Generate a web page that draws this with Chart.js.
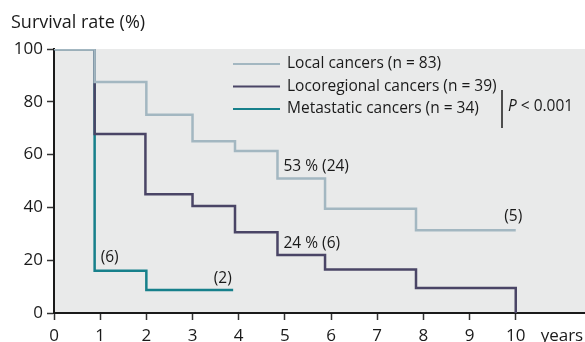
<!DOCTYPE html>
<html>
<head>
<meta charset="utf-8">
<script src="https://cdn.jsdelivr.net/npm/chart.js@4.4.1/dist/chart.umd.min.js"></script>
<style>
    body { margin: 0; background: #fff; }
    #wrap { width: 585px; height: 342px; }
</style>
</head>
<body>
<div id="wrap"><canvas id="kmChart" width="585" height="342"></canvas></div>
<script>
// Survival data (years, %)
const localTimes = [0, 0.88, 2.0, 3.0, 3.92, 4.84, 5.87, 7.84, 10];
const localValues = [100, 87.5, 75.1, 65.1, 61.4, 50.9, 39.5, 31.3, 31.3];
const locoTimes = [0, 0.88, 1.98, 3.0, 3.92, 4.84, 5.87, 7.84, 10];
const locoValues = [100, 67.8, 45.0, 40.5, 30.6, 22.0, 16.5, 9.5, 0];
const metaTimes = [0, 0.88, 2.0, 3.88];
const metaValues = [100, 16.0, 8.7, 8.7];

const seriesLabels = ["Local cancers (n = 83)", "Locoregional cancers (n = 39)", "Metastatic cancers (n = 34)"];
const xTickLabels = ["0", "1", "2", "3", "4", "5", "6", "7", "8", "9", "10", "years"];
const yTickLabels = ["0", "20", "40", "60", "80", "100"];

// Text notes on the curves
const noteTexts = ["53 % (24)", "24 % (6)", "(5)", "(6)", "(2)"];
const noteX = [4.97, 4.97, 9.75, 1.01, 3.46];
const noteY = [55.5, 26.2, 36.5, 20.9, 13.0];

const FONT = "'Open Sans', 'DejaVu Sans', sans-serif";
const colors = ["#a3b7c1", "#4a4566", "#17808b"];

function toPoints(times, values) {
    return times.map((t, i) => ({ x: t, y: values[i] }));
}

// Grey plot background
const plotBackground = {
    id: "plotBackground",
    beforeDraw(chart) {
        const { ctx, chartArea: a } = chart;
        ctx.save();
        ctx.fillStyle = "#e9eaea";
        ctx.fillRect(a.left, a.top, a.right - a.left, a.bottom - a.top);
        ctx.restore();
    }
};

// Title, legend and notes
const extras = {
    id: "extras",
    afterDraw(chart) {
        const ctx = chart.ctx;
        const xs = chart.scales.x, ys = chart.scales.y;
        ctx.save();
        ctx.fillStyle = "#1a1a1a";
        ctx.textBaseline = "middle";
        ctx.font = "18px " + FONT;
        ctx.fillText("Survival rate (%)", 11, 23);

        // legend
        ctx.font = "15.5px " + FONT;
        chart.data.datasets.forEach((ds, i) => {
            const y = 64 + i * 22.5;
            ctx.strokeStyle = ds.borderColor;
            ctx.lineWidth = 2;
            ctx.beginPath();
            ctx.moveTo(233, y);
            ctx.lineTo(280, y);
            ctx.stroke();
            ctx.fillStyle = "#1a1a1a";
            ctx.fillText(ds.label, 287, y);
        });
        ctx.strokeStyle = "#1a1a1a";
        ctx.lineWidth = 1.5;
        ctx.beginPath();
        ctx.moveTo(502, 90);
        ctx.lineTo(502, 128);
        ctx.stroke();
        ctx.font = "italic 15.5px " + FONT;
        ctx.fillText("P", 508, 107);
        const pw = ctx.measureText("P").width;
        ctx.font = "15.5px " + FONT;
        ctx.fillText(" < 0.001", 508 + pw, 107);

        // notes
        noteTexts.forEach((t, i) => {
            ctx.fillText(t, xs.getPixelForValue(noteX[i]), ys.getPixelForValue(noteY[i]));
        });
        ctx.restore();
    }
};

new Chart(document.getElementById("kmChart"), {
    type: "line",
    data: {
        datasets: [
            { label: seriesLabels[0], data: toPoints(localTimes, localValues), borderColor: colors[0], borderWidth: 2.5 },
            { label: seriesLabels[1], data: toPoints(locoTimes, locoValues), borderColor: colors[1], borderWidth: 2.5 },
            { label: seriesLabels[2], data: toPoints(metaTimes, metaValues), borderColor: colors[2], borderWidth: 2.5 },
        ],
    },
    options: {
        responsive: false,
        animation: false,
        events: [],
        layout: { padding: { top: 49, left: 0, right: 0, bottom: 0 } },
        elements: {
            line: { stepped: "before", fill: false, borderCapStyle: "butt", borderJoinStyle: "miter" },
            point: { radius: 0 },
        },
        plugins: { legend: { display: false }, tooltip: { enabled: false }, title: { display: false } },
        scales: {
            x: {
                type: "linear",
                min: 0,
                max: 11.5,
                afterBuildTicks(scale) {
                    scale.ticks = xTickLabels.map((_, i) => ({ value: i }));
                },
                afterFit(scale) {
                    scale.height = 29;
                    scale.paddingLeft = 0;
                    scale.paddingRight = 0;
                },
                border: { color: "#1a1a1a", width: 2 },
                grid: {
                    drawOnChartArea: false,
                    tickLength: 7,
                    tickWidth: 1.5,
                    tickColor: (c) => (c.index === 11 ? "rgba(0,0,0,0)" : "#333"),
                },
                ticks: {
                    maxRotation: 0,
                    autoSkip: false,
                    padding: 6,
                    color: "#1a1a1a",
                    font: { family: FONT, size: 17 },
                    callback: (v, i) => xTickLabels[i],
                },
            },
            y: {
                min: 0,
                max: 100,
                afterBuildTicks(scale) {
                    scale.ticks = yTickLabels.map((l) => ({ value: Number(l) }));
                },
                afterFit(scale) {
                    scale.width = 54;
                    scale.paddingTop = 0;
                    scale.paddingBottom = 0;
                },
                border: { color: "#1a1a1a", width: 2 },
                grid: { drawOnChartArea: false, tickLength: 7, tickWidth: 1.5, tickColor: "#333" },
                ticks: {
                    padding: 4,
                    color: "#1a1a1a",
                    font: { family: FONT, size: 17 },
                    callback: (v, i) => yTickLabels[i],
                },
            },
        },
    },
    plugins: [plotBackground, extras],
});
</script>
</body>
</html>
